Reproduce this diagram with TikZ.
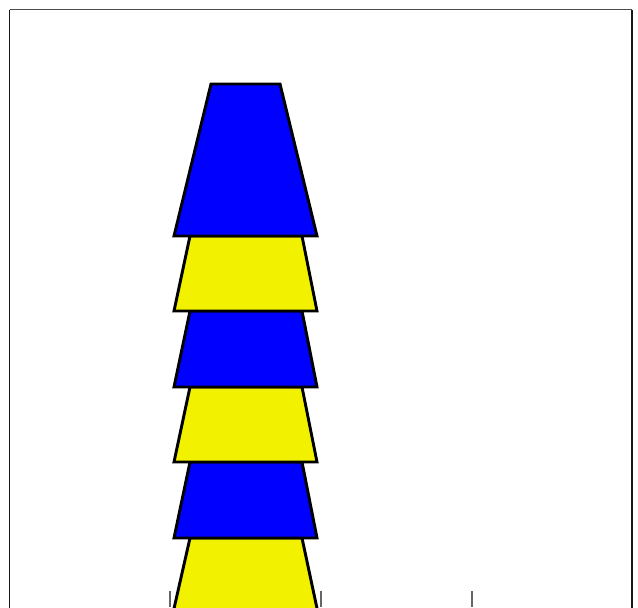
\documentclass[tikz,border=0pt]{standalone}
\definecolor{cupblue}{RGB}{0,0,255}
\definecolor{cupyellow}{RGB}{242,242,0}
\begin{document}
\begin{tikzpicture}[x=0.75pt,y=-0.75pt,
  seg/.style={draw=black,line width=2.2pt,line join=miter},
  tick/.style={draw=black!60,line width=0.8pt}]
\useasboundingbox (0,0) rectangle (638,607);
\clip (0,0) rectangle (638,607);
\draw[line width=1.1pt,draw=black!70] (9.5,9.5) -- (632,9.5);
\draw[line width=1.1pt,draw=black!90] (9.5,9.5) -- (9.5,612);
\draw[line width=1.1pt,draw=black!90] (632,9.5) -- (632,612);
% segments from bottom up
\draw[seg,fill=cupyellow] (190,538) -- (302,538) -- (318,613) -- (173,613) -- cycle;
\draw[seg,fill=cupblue] (190,462) -- (302,462) -- (317,538) -- (174,538) -- cycle;
\draw[seg,fill=cupyellow] (190,387) -- (302,387) -- (317,462) -- (174,462) -- cycle;
\draw[seg,fill=cupblue] (190,311) -- (302,311) -- (317,387) -- (174,387) -- cycle;
\draw[seg,fill=cupyellow] (190,236) -- (302,236) -- (317,311) -- (174,311) -- cycle;
\draw[seg,fill=cupblue] (211,84) -- (280,84) -- (317,236) -- (174,236) -- cycle;
% ticks
\draw[tick] (170,591) -- (170,607);
\draw[tick] (321,591) -- (321,607);
\draw[tick] (472,591) -- (472,607);
\end{tikzpicture}
\end{document}
